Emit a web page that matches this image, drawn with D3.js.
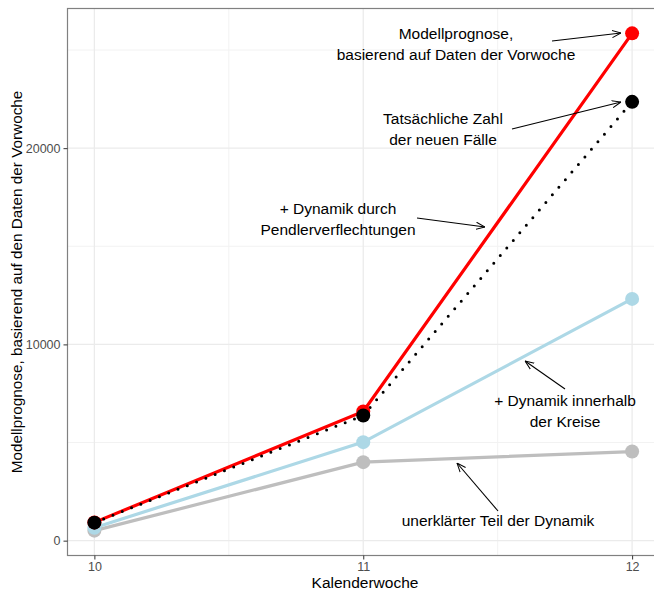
<!DOCTYPE html>
<html>
<head>
<meta charset="utf-8">
<script src="https://cdn.jsdelivr.net/npm/d3@7"></script>
<style>
  body { margin: 0; background: #fff; }
  svg { font-family: "Liberation Sans", Arial, sans-serif; display: block; }
</style>
</head>
<body>
<svg id="chart" width="654" height="594"></svg>
<script>
// Kalenderwochen und Werte
var weeks = [10, 11, 12];
var modell = [930, 6580, 25850];        // rot
var tatsaechlich = [916, 6380, 22360];  // schwarz, gepunktet
var innerhalb = [660, 5020, 12320];     // hellblau
var unerklaert = [510, 4000, 4540];     // grau
var yTicks = [0, 10000, 20000];
var yMinor = [5000, 15000, 25000];
var xMinor = [10.5, 11.5];

var annotations = [
  {lines: ["Modellprognose,", "basierend auf Daten der Vorwoche"], tx: 456, ty: 33, from: [552, 41], to: [621, 33]},
  {lines: ["Tatsächliche Zahl", "der neuen Fälle"], tx: 443, ty: 118, from: [512, 129], to: [621, 102]},
  {lines: ["+ Dynamik durch", "Pendlerverflechtungen"], tx: 338, ty: 208, from: [417, 218], to: [485, 227]},
  {lines: ["+ Dynamik innerhalb", "der Kreise"], tx: 565, ty: 400, from: [565, 389], to: [525, 361]},
  {lines: ["unerklärter Teil der Dynamik"], tx: 498, ty: 520, from: [498, 511], to: [457, 463]}
];

(function () {
  var svg = d3.select("#chart");
  var pl = 67.5, pr = 659, pt = 8.5, pb = 555.5;

  var x = d3.scaleLinear().domain([9.9, 12.1]).range([pl, pr]);
  var allVals = modell.concat(tatsaechlich, innerhalb, unerklaert);
  var ymin = d3.min(allVals), ymax = d3.max(allVals), pad = (ymax - ymin) * 0.05;
  var y = d3.scaleLinear().domain([ymin - pad, ymax + pad]).range([pb, pt]);

  var defs = svg.append("defs");
  defs.append("clipPath").attr("id", "clip").append("rect")
    .attr("x", pl).attr("y", pt).attr("width", pr - pl).attr("height", pb - pt);
  defs.append("marker").attr("id", "arrow").attr("viewBox", "0 0 10 10")
    .attr("refX", 10).attr("refY", 5).attr("markerWidth", 9).attr("markerHeight", 9)
    .attr("markerUnits", "userSpaceOnUse").attr("orient", "auto")
    .append("path").attr("d", "M0,1 L10,5 L0,9").attr("fill", "none")
    .attr("stroke", "#000").attr("stroke-width", 1.1);

  var panel = svg.append("g").attr("clip-path", "url(#clip)");

  // grid
  panel.selectAll(".ymin").data(yMinor).enter().append("line")
    .attr("x1", pl).attr("x2", pr).attr("y1", y).attr("y2", y)
    .attr("stroke", "#f2f2f2").attr("stroke-width", 1);
  panel.selectAll(".xmin").data(xMinor).enter().append("line")
    .attr("y1", pt).attr("y2", pb).attr("x1", x).attr("x2", x)
    .attr("stroke", "#f2f2f2").attr("stroke-width", 1);
  panel.selectAll(".ymaj").data(yTicks).enter().append("line")
    .attr("x1", pl).attr("x2", pr).attr("y1", y).attr("y2", y)
    .attr("stroke", "#ebebeb").attr("stroke-width", 1.3);
  panel.selectAll(".xmaj").data(weeks).enter().append("line")
    .attr("y1", pt).attr("y2", pb).attr("x1", x).attr("x2", x)
    .attr("stroke", "#ebebeb").attr("stroke-width", 1.3);

  // Linien
  var series = [
    {v: unerklaert, c: "#bebebe"},
    {v: innerhalb, c: "#add8e6"},
    {v: modell, c: "#ff0000"},
    {v: tatsaechlich, c: "#000000", dash: true}
  ];
  series.forEach(function (s) {
    s.pts = weeks.map(function (w, i) { return [x(w), y(s.v[i])]; });
    var line = panel.append("path").attr("d", d3.line()(s.pts)).attr("fill", "none")
      .attr("stroke", s.c).attr("stroke-width", s.dash ? 3 : 3.2);
    if (s.dash) line.attr("stroke-dasharray", "0 10").attr("stroke-linecap", "round");
  });
  series.forEach(function (s) {
    panel.selectAll(null).data(s.pts).enter().append("circle")
      .attr("cx", function (d) { return d[0]; }).attr("cy", function (d) { return d[1]; })
      .attr("r", 7).attr("fill", s.c);
  });

  // Rahmen
  svg.append("rect").attr("x", pl).attr("y", pt).attr("width", pr - pl)
    .attr("height", pb - pt).attr("fill", "none").attr("stroke", "#808080").attr("stroke-width", 1.2);

  // Achsen
  var yAxis = svg.append("g").attr("transform", "translate(" + pl + ",0)")
    .call(d3.axisLeft(y).tickValues(yTicks).tickFormat(d3.format("d")).tickSize(4).tickPadding(3));
  var xAxis = svg.append("g").attr("transform", "translate(0," + pb + ")")
    .call(d3.axisBottom(x).tickValues(weeks).tickFormat(d3.format("d")).tickSize(4).tickPadding(3));
  [xAxis, yAxis].forEach(function (a) {
    a.select(".domain").remove();
    a.selectAll(".tick line").attr("stroke", "#333");
    a.selectAll("text").attr("fill", "#4d4d4d").style("font-size", "12.5px")
      .style("font-family", "'Liberation Sans', Arial, sans-serif");
  });

  svg.append("text").attr("x", 365).attr("y", 588).attr("text-anchor", "middle")
    .style("font-size", "15.5px").text("Kalenderwoche");
  svg.append("text").attr("transform", "translate(22," + ((pt + pb) / 2) + ") rotate(-90)")
    .attr("text-anchor", "middle").style("font-size", "15.3px")
    .text("Modellprognose, basierend auf den Daten der Vorwoche");

  // Beschriftungen
  annotations.forEach(function (a) {
    var t = svg.append("text").attr("text-anchor", "middle").style("font-size", "15.5px");
    a.lines.forEach(function (l, i) {
      t.append("tspan").attr("x", a.tx).attr("y", a.ty + 5.5 + i * 21.5).text(l);
    });
    svg.append("line").attr("x1", a.from[0]).attr("y1", a.from[1]).attr("x2", a.to[0]).attr("y2", a.to[1])
      .attr("stroke", "#000").attr("stroke-width", 1.1).attr("marker-end", "url(#arrow)");
  });
})();
</script>
</body>
</html>
